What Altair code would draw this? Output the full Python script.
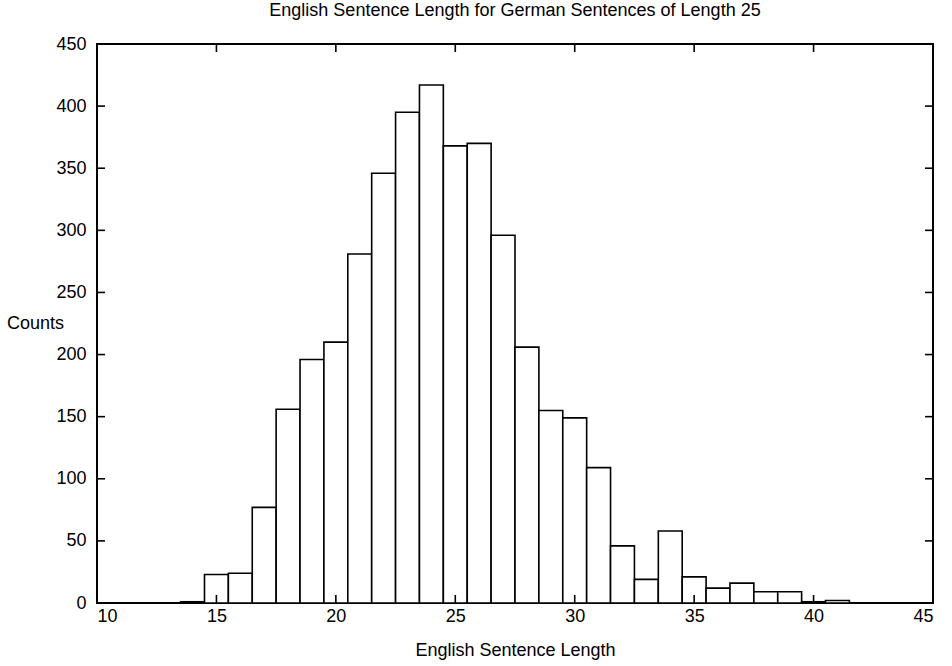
import altair as alt
import pandas as pd

lengths = [14, 15, 16, 17, 18, 19, 20, 21, 22, 23, 24, 25, 26, 27, 28, 29, 30,
           31, 32, 33, 34, 35, 36, 37, 38, 39, 40, 41]
counts = [1, 23, 24, 77, 156, 196, 210, 281, 346, 395, 417, 368, 370, 296, 206,
          155, 149, 109, 46, 19, 58, 21, 12, 16, 9, 9, 1, 2]
x_ticks = [10, 15, 20, 25, 30, 35, 40, 45]
y_ticks = [0, 50, 100, 150, 200, 250, 300, 350, 400, 450]

title_text = "English Sentence Length for German Sentences of Length 25"
x_title = "English Sentence Length"
y_title = "Counts"

W, H = 836, 559
FONT = "Liberation Sans"
FS = 18

df = pd.DataFrame({"length": lengths, "count": counts})
xt = pd.DataFrame({"v": x_ticks})
yt = pd.DataFrame({"v": y_ticks})

xs = alt.Scale(domain=[10, 45], nice=False, zero=False)
ys = alt.Scale(domain=[0, 450], nice=False)

bars = alt.Chart(df).transform_calculate(
    lo="datum.length - 0.5", hi="datum.length + 0.5"
).mark_rect(fill="white", stroke="black", strokeWidth=1.6).encode(
    x=alt.X("lo:Q", scale=xs,
            axis=alt.Axis(values=x_ticks, title=x_title, ticks=False, tickSize=0,
                          domain=False, grid=False, labelPadding=4,
                          titlePadding=16, format="d")),
    x2="hi:Q",
    y=alt.Y("count:Q", scale=ys,
            axis=alt.Axis(values=y_ticks, title=y_title, ticks=False, tickSize=0,
                          domain=False, grid=False, labelPadding=11,
                          titleAngle=0, titleX=-62, titleY=H / 2,
                          titleAlign="center", titleBaseline="middle")),
    y2=alt.datum(0),
)

tick_len = 8
xb = alt.Chart(xt).mark_rule(color="black", strokeWidth=1.6).encode(
    x=alt.X("v:Q", scale=xs), y=alt.value(H - tick_len), y2=alt.value(H))
xtop = alt.Chart(xt).mark_rule(color="black", strokeWidth=1.6).encode(
    x=alt.X("v:Q", scale=xs), y=alt.value(0), y2=alt.value(tick_len))
yl = alt.Chart(yt).mark_rule(color="black", strokeWidth=1.6).encode(
    y=alt.Y("v:Q", scale=ys), x=alt.value(0), x2=alt.value(tick_len))
yr = alt.Chart(yt).mark_rule(color="black", strokeWidth=1.6).encode(
    y=alt.Y("v:Q", scale=ys), x=alt.value(W - tick_len), x2=alt.value(W))

chart = alt.layer(bars, xb, xtop, yl, yr).properties(
    width=W, height=H,
    title=alt.TitleParams(title_text, anchor="middle", fontSize=FS, font=FONT,
                          fontWeight="normal", color="black", offset=15),
    autosize=alt.AutoSizeParams(type="none"),
    padding={"left": 97, "top": 44, "right": 19, "bottom": 63},
).configure(
    background="white",
    view=alt.ViewConfig(stroke="black", strokeWidth=2),
    axis=alt.AxisConfig(labelFont=FONT, titleFont=FONT, labelFontSize=FS,
                        titleFontSize=FS, labelColor="black", titleColor="black",
                        titleFontWeight="normal"),
)

chart.save("out.html", embed_options={"renderer": "svg", "actions": False})
